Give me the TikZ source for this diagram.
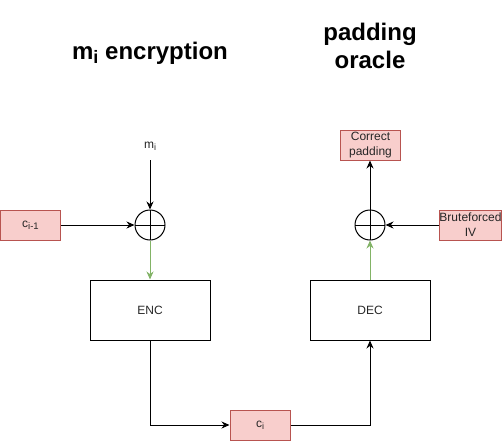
\documentclass[tikz,border=0pt]{standalone}
\usepackage{fontspec}
\setmainfont{Liberation Sans}
\usetikzlibrary{arrows.meta}
\definecolor{pinkfill}{HTML}{F8CECC}
\definecolor{pinkdraw}{HTML}{B85450}
\definecolor{greenline}{HTML}{82B366}
\newcommand{\mysub}[2]{\raisebox{-0.35ex}{\fontsize{#1}{#1}\selectfont #2}}
\begin{document}
\begin{tikzpicture}[x=1pt,y=-1pt,
  every node/.style={font=\fontsize{12}{15}\selectfont, text=black!85},
  pinkbox/.style={draw=pinkdraw, fill=pinkfill, line width=1pt, minimum width=60pt, minimum height=30pt, inner sep=0pt, align=center},
  blockbox/.style={draw, line width=1pt, minimum width=120pt, minimum height=60pt, inner sep=0pt},
  xorc/.style={circle, draw, line width=1pt, minimum size=30pt, inner sep=0pt,
    path picture={\draw[line width=1pt] (path picture bounding box.north)--(path picture bounding box.south) (path picture bounding box.west)--(path picture bounding box.east);}},
  conn/.style={line width=1pt, -{Stealth[length=8pt,width=7pt]}},
  gconn/.style={conn, draw=greenline},
  title/.style={font=\fontsize{24}{28}\selectfont\bfseries, align=center, text=black}
]
\useasboundingbox (0,0) rectangle (502,441);

\node[title] (t1) at (150,53) {m\mysub{18}{i} encryption};
\node[title] (t2) at (370,46) {padding\\oracle};

\node[pinkbox] (cim1) at (30.5,225) {c\mysub{9.5}{i-1}};
\node[xorc] (x1) at (150,225) {};
\node (mi) at (150,146) {m\mysub{9}{i}};
\coordinate (mstart) at (150,160);
\node[blockbox] (enc) at (150,310) {ENC};
\node[pinkbox] (ci) at (260,425) {c\mysub{9}{i}};
\node[blockbox] (dec) at (370,310) {DEC};
\node[xorc] (x2) at (370,225) {};
\node[pinkbox] (cp) at (370.5,145) {Correct\\padding};
\node[pinkbox] (bf) at (470.5,225) {Bruteforced\\IV};

\draw[conn] (cim1) -- (x1);
\draw[conn] (mstart) -- (x1);
\draw[gconn] (x1) -- (enc);
\draw[conn] (enc.south) |- (ci.west);
\draw[conn] (ci.east) -| (dec.south);
\draw[gconn] (dec) -- (x2);
\draw[conn] (x2.north) -- (x2.north |- cp.south);
\draw[conn] (bf) -- (x2);
\end{tikzpicture}
\end{document}
